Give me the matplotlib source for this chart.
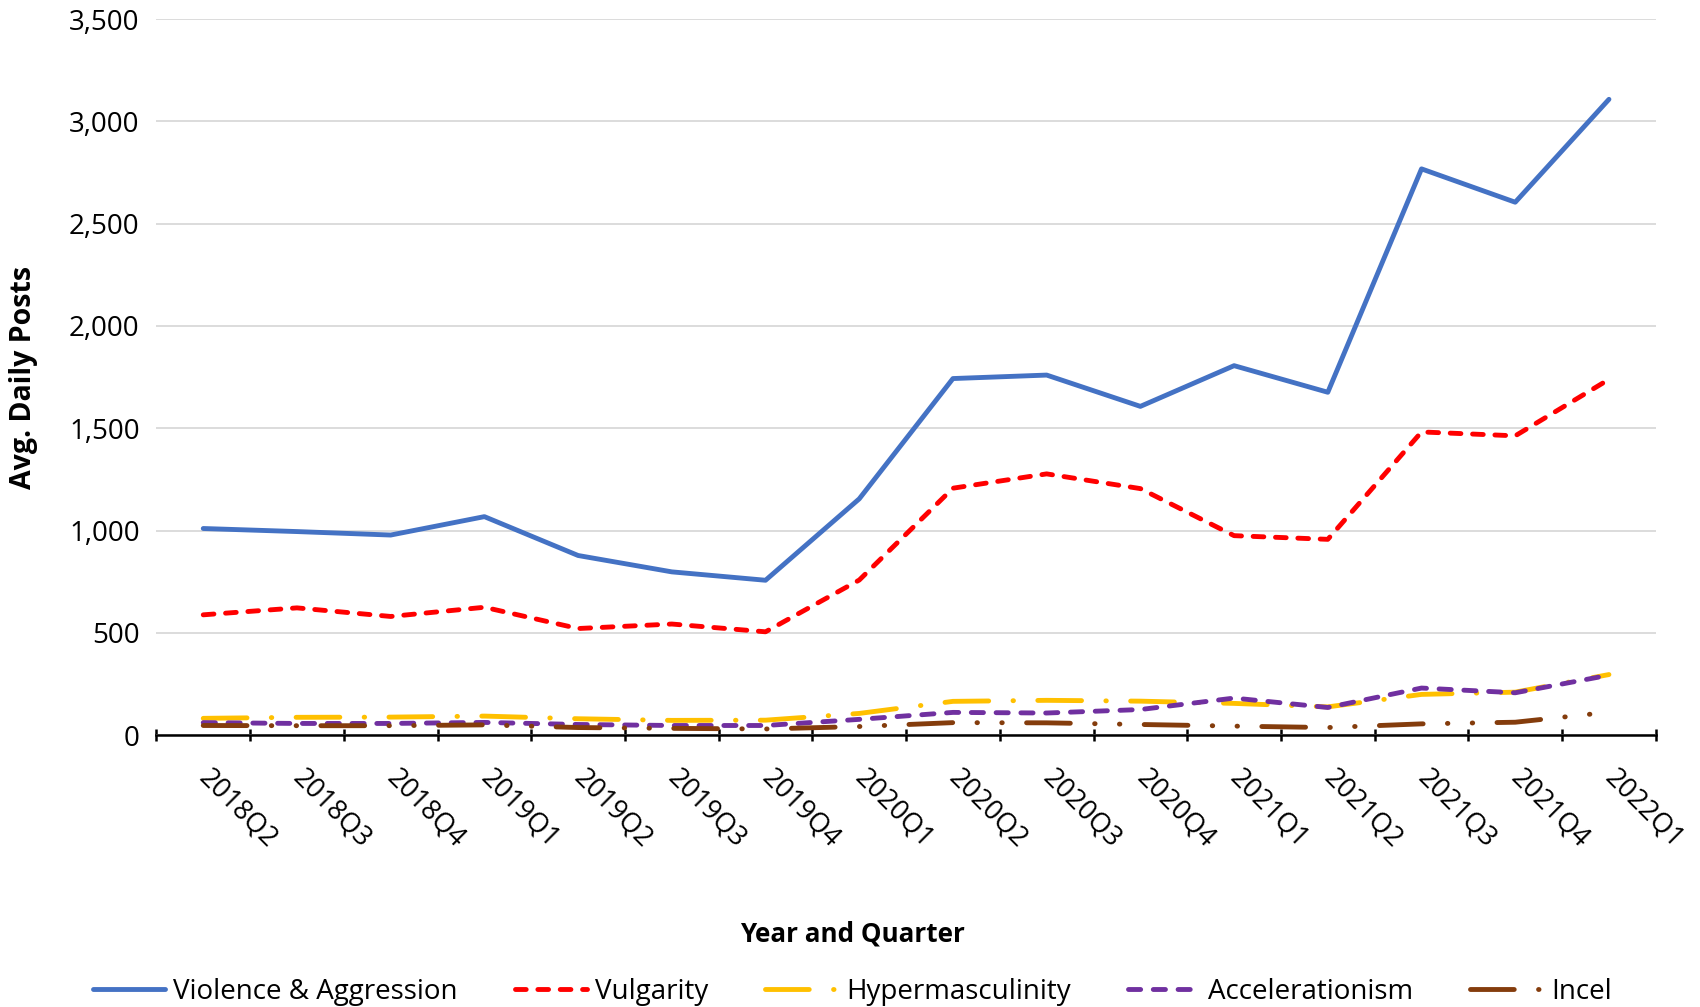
import matplotlib
matplotlib.use('Agg')
import matplotlib.pyplot as plt
from matplotlib.ticker import FuncFormatter, FixedLocator
import numpy as np

# quarters on the x axis
quarters = ['2018Q2', '2018Q3', '2018Q4', '2019Q1', '2019Q2', '2019Q3', '2019Q4', '2020Q1',
            '2020Q2', '2020Q3', '2020Q4', '2021Q1', '2021Q2', '2021Q3', '2021Q4', '2022Q1']

# average daily posts per category
violence = [1010, 995, 978, 1068, 878, 798, 757, 1155, 1743, 1760, 1607, 1806, 1676, 2768, 2605, 3108]
vulgarity = [588, 622, 580, 625, 521, 543, 505, 758, 1207, 1277, 1205, 975, 957, 1482, 1463, 1739]
hypermasculinity = [82, 87, 88, 93, 80, 72, 73, 106, 165, 170, 166, 155, 138, 199, 210, 296]
accelerationism = [61, 57, 57, 62, 52, 47, 47, 77, 111, 108, 125, 181, 135, 230, 207, 293]
incel = [47, 46, 46, 50, 37, 33, 30, 42, 61, 60, 52, 44, 37, 55, 63, 112]

plt.rcParams['font.family'] = ['Open Sans', 'DejaVu Sans']

fig = plt.figure(figsize=(17, 10.07), dpi=100)
ax = fig.add_axes([0.092, 0.270, 0.882, 0.711])

x = np.arange(len(quarters))
lw = 3.5

ax.plot(x, violence, color='#4472C4', lw=lw, solid_capstyle='round', solid_joinstyle='round',
        label='Violence & Aggression', zorder=5)
ax.plot(x, vulgarity, color='#FF0000', lw=lw, dashes=(2.2, 2.4), dash_capstyle='round',
        label='Vulgarity', zorder=4)
ax.plot(x, hypermasculinity, color='#FFC000', lw=lw, dashes=(9, 5, 0.1, 5), dash_capstyle='round',
        label='Hypermasculinity', zorder=3)
ax.plot(x, accelerationism, color='#7030A0', lw=lw, dashes=(2.5, 2.6), dash_capstyle='round',
        label='Accelerationism', zorder=3)
ax.plot(x, incel, color='#843C0C', lw=lw, dashes=(9, 5, 0.1, 5, 0.1, 5), dash_capstyle='round',
        label='Incel', zorder=3)

# axes styling
ax.set_xlim(-0.5, len(quarters) - 0.5)
ax.set_ylim(0, 3500)
ax.set_yticks(np.arange(0, 3501, 500))
ax.yaxis.set_major_formatter(FuncFormatter(lambda v, p: f'{int(v):,}'))
ax.grid(axis='y', color='#D9D9D9', lw=1.3)
ax.set_axisbelow(True)
for s in ['top', 'right', 'left']:
    ax.spines[s].set_visible(False)
ax.spines['bottom'].set_linewidth(1.8)
ax.tick_params(axis='y', length=0, labelsize=20, pad=12)

ax.set_xticks(x)
ax.set_xticklabels(quarters, rotation=-45, ha='left', va='center', rotation_mode='anchor')
ax.tick_params(axis='x', which='major', length=0, labelsize=19.5, pad=28)
ax.xaxis.set_minor_locator(FixedLocator(np.arange(-0.5, len(quarters), 1)))
ax.tick_params(axis='x', which='minor', length=8, width=1.8, direction='inout')

ax.set_ylabel('Avg. Daily Posts', fontsize=20.5, fontweight='bold')
ax.yaxis.set_label_coords(-0.079, 0.5)
ax.set_xlabel('Year and Quarter', fontsize=18.7, fontweight='bold')
ax.xaxis.set_label_coords(0.464, -0.259)

ax.legend(loc='center', bbox_to_anchor=(0.464, -0.359), ncol=5, frameon=False, fontsize=20,
          handlelength=2.6, columnspacing=2.05, handletextpad=0.3)

fig.savefig('out.png', dpi=100)
